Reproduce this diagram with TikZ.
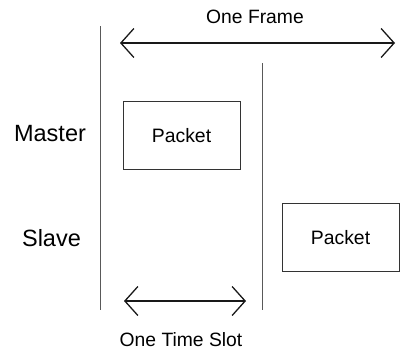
\documentclass[tikz,border=0pt]{standalone}
\usepackage{fontspec}
\setmainfont{Liberation Sans}
\usetikzlibrary{arrows.meta}
\begin{document}
\begin{tikzpicture}[x=1pt,y=-1pt,
  packet/.style={draw=black!80, line width=0.9pt, minimum width=117pt,
    minimum height=68pt, inner sep=0pt, font=\fontsize{19.4}{22}\selectfont},
  role/.style={anchor=base, inner sep=0pt, font=\fontsize{23.5}{28}\selectfont},
  caption/.style={anchor=base, inner sep=0pt, font=\fontsize{19.3}{22}\selectfont},
  barb/.tip={Straight Barb[length=13pt,width=29pt,line width=1.3pt]},
  span/.style={line width=1.3pt, black!90, barb-barb},
  divider/.style={draw=black!65, line width=0.9pt}]
\useasboundingbox (0,0) rectangle (409,351);

% time-slot boundaries
\coordinate (d1top) at (100,26);
\coordinate (d1bot) at (100,310);
\coordinate (d2top) at (262,63);
\coordinate (d2bot) at (262,310);
\draw[divider] (d1top) -- (d1bot);
\draw[divider] (d2top) -- (d2bot);

% frame span
\coordinate (frameL) at (120,43);
\coordinate (frameR) at (395,43);
\draw[span] (frameL) -- (frameR);
\node[caption] (frame) at (255,23.5) {One Frame};

% slot span
\coordinate (slotL) at (124,301);
\coordinate (slotR) at (246,301);
\draw[span] (slotL) -- (slotR);
\node[caption] (slot) at (181,346) {One Time Slot};

% roles
\node[role] (master) at (50,141.7) {Master};
\node[role] (slave) at (51.5,246.7) {Slave};

% packets
\node[packet] (mpkt) at (181.5,135.5) {Packet};
\node[packet] (spkt) at (340.5,237.5) {Packet};
\end{tikzpicture}
\end{document}
